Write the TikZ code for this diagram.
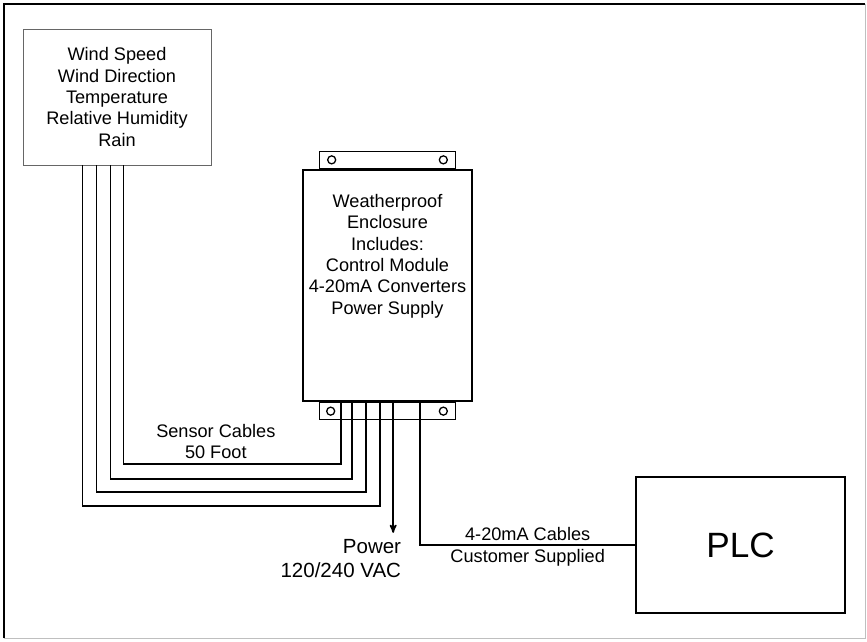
\documentclass[tikz,border=0pt]{standalone}
\usepackage{fontspec}
\setmainfont{Liberation Sans}
\usetikzlibrary{arrows,calc,positioning}

\begin{document}
\begin{tikzpicture}[>=stealth', x=0.03cm, y=-0.03cm,
	every node/.style={font=\fontsize{15.5}{18.2}\selectfont, align=center},
	unit/.style={draw, rectangle, inner sep=0pt},
	wire/.style={-, line width=1.4pt},
	hole/.style={draw, circle, minimum size=0.24cm, inner sep=0pt, line width=1.1pt}]

	\useasboundingbox (0,0) rectangle (867,641);

	% outer frame
	\draw[line width=1.6pt] (4,638) -- (4,4) -- (865,4);
	\draw[black!25, line width=0.6pt] (865,4) -- (865,638) -- (4,638);

	\node[unit, draw=black!60, line width=0.8pt, minimum width=5.64cm, minimum height=4.08cm] (sensors) at (117,97) {
		Wind Speed\\
		Wind Direction\\
		Temperature\\
		Relative Humidity\\
		Rain
	};

	\node[unit, line width=1.4pt, minimum width=5.07cm, minimum height=6.93cm] (encl) at (387.5,285.5) {};

	\node (encl_txt) at (387.5,256) {
		Weatherproof\\
		Enclosure\\
		Includes:\\
		Control Module\\
		4-20mA Converters\\
		Power Supply
	};

	\node[unit, line width=1.4pt, minimum width=4.08cm, minimum height=0.51cm, anchor=south] (top_brk) at (encl.north) {};
	\node[unit, line width=1.4pt, minimum width=4.08cm, minimum height=0.51cm, anchor=north] (bot_brk) at (encl.south) {};

	\node[hole] (top_hole_l) at ($(top_brk.west) + (13,0)$) {};
	\node[hole] (top_hole_r) at ($(top_brk.east) + (-13,0)$) {};
	\node[hole] (bot_hole_l) at ($(bot_brk.west) + (12,0)$) {};
	\node[hole] (bot_hole_r) at ($(bot_brk.east) + (-13,0)$) {};

	\node[unit, line width=1.3pt, minimum width=6.27cm, minimum height=4.08cm, font=\fontsize{30}{36}\selectfont] (plc) at (740.5,545) {PLC};

	% sensor cables
	\draw[wire] ($(sensors.south west) + (101,0)$) |- node[above, pos=0.712] (cable_lbl) {
		Sensor Cables\\
		50 Foot
	} ($(encl.south west) + (39,62)$) -- ($(encl.south west) + (39,0)$);
	\draw[wire] ($(sensors.south west) + (88,0)$) |- ($(encl.south west) + (50,77)$) -- ($(encl.south west) + (50,0)$);
	\draw[wire] ($(sensors.south west) + (74,0)$) |- ($(encl.south west) + (64,90)$) -- ($(encl.south west) + (64,0)$);
	\draw[wire] ($(sensors.south west) + (60,0)$) |- ($(encl.south west) + (78,104)$) -- ($(encl.south west) + (78,0)$);

	% power feed
	\coordinate (pwr_end) at ($(encl.south west) + (91,131)$);
	\draw[wire, ->] ($(encl.south west) + (91,0)$) -- (pwr_end);
	\node[anchor=north east, align=right, font=\fontsize{17.5}{20.5}\selectfont] (pwr_lbl) at ($(pwr_end) + (12,2)$) {
		Power\\
		120/240 VAC
	};

	% 4-20mA output
	\draw[wire] ($(encl.south west) + (118,0)$) |- node[above, pos=0.75] (out_lbl_a) {4-20mA Cables}
		node[below, pos=0.75] (out_lbl_b) {Customer Supplied} (plc.west);
\end{tikzpicture}
\end{document}
